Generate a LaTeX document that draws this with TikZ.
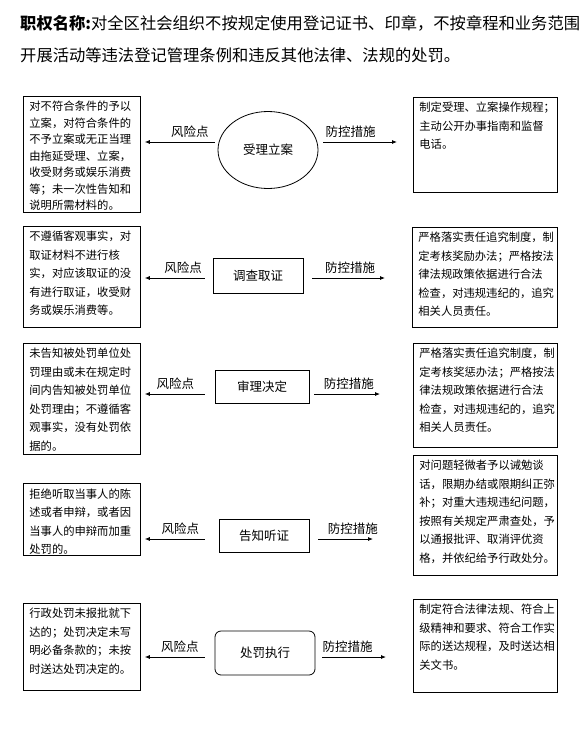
\documentclass[tikz,border=0pt]{standalone}
\usepackage{fontspec}
\setmainfont{Noto Sans CJK SC}
\usepackage{tikz}
\usetikzlibrary{arrows.meta,shapes.geometric}

\newcommand{\boxtxt}[3]{\parbox[c][#2pt][t]{#1pt}{\raggedright #3}}

\tikzset{
  riskbox/.style={draw, line width=0.8pt, anchor=north west,
    inner xsep=6pt, inner ysep=5pt, font=\fontsize{11.3}{18.5}\selectfont},
  ctrlbox/.style={riskbox},
  stage/.style={draw, line width=0.8pt, font=\fontsize{12.5}{14}\selectfont},
  linkarrow/.style={-{Latex[length=5pt,width=4pt]}, line width=0.8pt},
  tag/.style={font=\fontsize{12.5}{14}\selectfont, above, inner sep=4pt}
}

\begin{document}
\begin{tikzpicture}[x=1pt,y=-1pt]
    \useasboundingbox (0,0) rectangle (588,737);

    % title
    \node[anchor=west, align=left, inner sep=0pt,
        font=\fontsize{16.3}{32}\selectfont] (title) at (20,39)
        {\textbf{职权名称:}对全区社会组织不按规定使用登记证书、印章，不按章程和业务范围\\
         开展活动等违法登记管理条例和违反其他法律、法规的处罚。};

    % stages
    \node[stage, ellipse, minimum width=100pt, minimum height=77pt] (s1) at (268,150) {受理立案};
    \node[stage, minimum width=90pt, minimum height=35pt] (s2) at (258,275.5) {调查取证};
    \node[stage, minimum width=94pt, minimum height=33pt] (s3) at (262,386.5) {审理决定};
    \node[stage, minimum width=90pt, minimum height=33pt] (s4) at (264,535.5) {告知听证};
    \node[stage, rounded corners=6pt, minimum width=100pt, minimum height=44pt] (s5) at (265,653) {处罚执行};

    % risk points
    \node[riskbox, font=\fontsize{11.3}{16.5}\selectfont] (l1) at (23,96) {\boxtxt{105}{106}{%
        对不符合条件的予以\\立案，对符合条件的\\不予立案或无正当理\\由拖延受理、立案，\\收受财务或娱乐消费\\等；未一次性告知和\\说明所需材料的。}};
    \node[riskbox] (l2) at (23,226) {\boxtxt{105}{91}{%
        不遵循客观事实，对\\取证材料不进行核\\实，对应该取证的没\\有进行取证，收受财\\务或娱乐消费等。}};
    \node[riskbox] (l3) at (23,343) {\boxtxt{105}{101}{%
        未告知被处罚单位处\\罚理由或未在规定时\\间内告知被处罚单位\\处罚理由；不遵循客\\观事实，没有处罚依\\据的。}};
    \node[riskbox] (l4) at (23,483) {\boxtxt{105}{62}{%
        拒绝听取当事人的陈\\述或者申辩，或者因\\当事人的申辩而加重\\处罚的。}};
    \node[riskbox] (l5) at (23,603) {\boxtxt{105}{77}{%
        行政处罚未报批就下\\达的；处罚决定未写\\明必备条款的；未按\\时送达处罚决定的。}};

    % control measures
    \node[ctrlbox] (r1) at (413,97) {\boxtxt{132}{85}{%
        制定受理、立案操作规程；\\主动公开办事指南和监督\\电话。}};
    \node[ctrlbox] (r2) at (412,227) {\boxtxt{133}{90}{%
        严格落实责任追究制度，制\\定考核奖励办法；严格按法\\律法规政策依据进行合法\\检查，对违规违纪的，追究\\相关人员责任。}};
    \node[ctrlbox] (r3) at (413,343) {\boxtxt{132}{94}{%
        严格落实责任追究制度，制\\定考核奖惩办法；严格按法\\律法规政策依据进行合法\\检查，对违规违纪的，追究\\相关人员责任。}};
    \node[ctrlbox] (r4) at (413,455) {\boxtxt{132}{110}{%
        对问题轻微者予以诫勉谈\\话，限期办结或限期纠正弥\\补；对重大违规违纪问题，\\按照有关规定严肃查处，予\\以通报批评、取消评优资\\格，并依纪给予行政处分。}};
    \node[ctrlbox] (r5) at (413,599) {\boxtxt{132}{83}{%
        制定符合法律法规、符合上\\级精神和要求、符合工作实\\际的送达规程，及时送达相\\关文书。}};

    % arrows
    \foreach \i/\dy/\ls/\rs/\rg/\lp/\rp in {1/8/3/5/16/0.36/0.34, 2/-2.5/8/9/27/0.41/0.43,
        3/-7.5/10/5/33/0.53/0.38, 4/-3.5/14/9/40/0.49/0.42, 5/-4/10/7/27/0.47/0.33}
    {
        \coordinate (a\i) at ([yshift=\dy pt]s\i.west);
        \coordinate (b\i) at ([yshift=\dy pt]s\i.east);
        \draw[linkarrow, shorten <=\ls pt, shorten >=4pt] (a\i) -- (a\i -| l\i.east)
            node[tag, pos=\lp] {风险点};
        \draw[linkarrow, shorten <=\rs pt, shorten >=\rg pt] (b\i) -- (b\i -| r\i.west)
            node[tag, pos=\rp] {防控措施};
    }
\end{tikzpicture}
\end{document}
